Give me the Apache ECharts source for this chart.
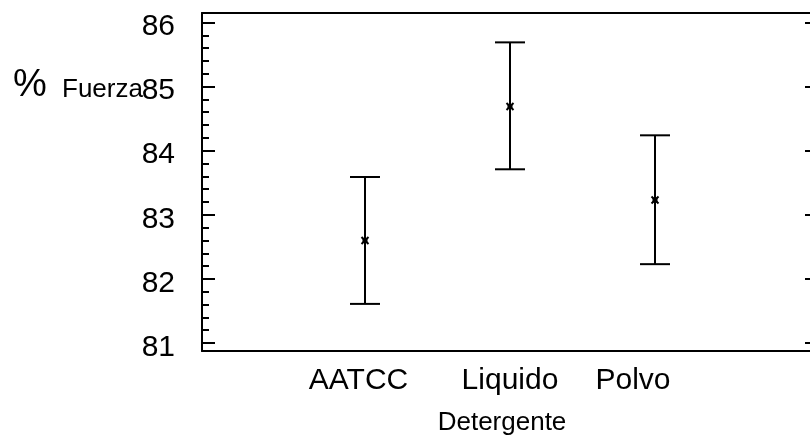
<!DOCTYPE html>
<html>
<head>
<meta charset="utf-8">
<script src="https://cdn.jsdelivr.net/npm/echarts@6/dist/echarts.min.js"></script>
<style>html,body{margin:0;padding:0;background:#fff}#c{width:810px;height:439px}</style>
</head>
<body>
<div id="c"></div>
<script>
const categories = ['AATCC', 'Liquido', 'Polvo'];
const means = [82.60, 84.69, 83.23];
const lowers = [81.61, 83.71, 82.23];
const uppers = [83.59, 85.69, 84.24];
const yTicks = [81, 82, 83, 84, 85, 86];
const xTitle = 'Detergente';
const yTitlePct = '%';
const yTitleWord = 'Fuerza';

const FONT = 'Liberation Sans, Arial, sans-serif';
const chart = echarts.init(document.getElementById('c'), null, {renderer: 'canvas'});

const seriesData = categories.map((c, i) => [i + 1, means[i], lowers[i], uppers[i]]);

const frameLine = {show: true, onZero: false, lineStyle: {color: '#000', width: 2}};
const yMin = yTicks[0], yMax = yTicks[yTicks.length - 1];
const catLabelStyle = {fontFamily: FONT, fontSize: 30, color: '#000'};

const option = {
  backgroundColor: '#fff',
  animation: false,
  grid: [
    {left: 202, top: 22.5, width: 616, height: 320.5, containLabel: false, outerBoundsMode: 'none'},
    {left: 202, top: 13, width: 616, height: 338, containLabel: false, outerBoundsMode: 'none'},
    {left: 202, top: 27, width: 616, height: 320.5, containLabel: false, outerBoundsMode: 'none'}
  ],
  xAxis: [
    {
      gridIndex: 0, type: 'value', min: -0.124, max: 4.124, position: 'bottom',
      axisLine: {show: false, onZero: false}, axisTick: {show: false}, splitLine: {show: false},
      axisLabel: {
        customValues: categories.map((c, i) => i + 1),
        formatter: v => {
          const i = Math.round(v) - 1;
          return categories[i] ? '{c' + i + '|' + categories[i] + '}' : '';
        },
        fontFamily: FONT, fontSize: 30, color: '#000', margin: 23,
        rich: {
          c0: Object.assign({padding: [0, 13, 0, 0]}, catLabelStyle),
          c1: Object.assign({}, catLabelStyle),
          c2: Object.assign({padding: [0, 44, 0, 0]}, catLabelStyle)
        }
      },
      name: xTitle, nameLocation: 'middle', nameGap: 67,
      nameTextStyle: {fontFamily: FONT, fontSize: 26, color: '#000', padding: [0, 16, 0, 0]}
    },
    {
      gridIndex: 1, type: 'value', min: 0, max: 1, position: 'bottom',
      axisLine: frameLine, axisTick: {show: false}, axisLabel: {show: false}, splitLine: {show: false}
    },
    {
      gridIndex: 1, type: 'value', min: 0, max: 1, position: 'top',
      axisLine: frameLine, axisTick: {show: false}, axisLabel: {show: false}, splitLine: {show: false}
    },
    {
      gridIndex: 2, type: 'value', min: 0, max: 1, show: false
    }
  ],
  yAxis: [
    {
      gridIndex: 0, type: 'value', min: yMin, max: yMax, interval: 1,
      position: 'left',
      axisLine: {show: false, onZero: false},
      axisTick: {show: true, inside: true, length: 13, lineStyle: {color: '#000', width: 2}},
      minorTick: {show: true, splitNumber: 5, length: 7, lineStyle: {color: '#000', width: 2}},
      splitLine: {show: false},
      axisLabel: {show: false}
    },
    {
      gridIndex: 0, type: 'value', min: yMin, max: yMax, interval: 1,
      position: 'right',
      axisLine: {show: false, onZero: false},
      axisTick: {show: true, inside: true, length: 13, lineStyle: {color: '#000', width: 2}},
      splitLine: {show: false}, axisLabel: {show: false}
    },
    {
      gridIndex: 1, type: 'value', min: 0, max: 1, position: 'left',
      axisLine: frameLine, axisTick: {show: false}, axisLabel: {show: false}, splitLine: {show: false}
    },
    {
      gridIndex: 1, type: 'value', min: 0, max: 1, position: 'right',
      axisLine: frameLine, axisTick: {show: false}, axisLabel: {show: false}, splitLine: {show: false}
    },
    {
      gridIndex: 2, type: 'value', min: yMin, max: yMax, interval: 1, position: 'left',
      axisLine: {show: false, onZero: false}, axisTick: {show: false}, splitLine: {show: false},
      axisLabel: {fontFamily: FONT, fontSize: 30, color: '#000', margin: 27}
    }
  ],
  graphic: [
    {type: 'text', left: 13, top: 67, style: {text: yTitlePct, font: '38px ' + FONT, fill: '#000'}},
    {type: 'text', left: 62, top: 77, style: {text: yTitleWord, font: '26px ' + FONT, fill: '#000'}}
  ],
  series: [
    {
      type: 'custom', xAxisIndex: 0, yAxisIndex: 0,
      data: seriesData,
      clip: false,
      renderItem: function (params, api) {
        const x = api.value(0);
        const pm = api.coord([x, api.value(1)]);
        const pl = api.coord([x, api.value(2)]);
        const ph = api.coord([x, api.value(3)]);
        const hw = 15;
        const st = {stroke: '#000', lineWidth: 2};
        const ms = {stroke: '#000', lineWidth: 2};
        const r = 3.5;
        return {
          type: 'group',
          children: [
            {type: 'line', shape: {x1: pl[0], y1: pl[1], x2: ph[0], y2: ph[1]}, style: st},
            {type: 'line', shape: {x1: pl[0] - hw, y1: pl[1], x2: pl[0] + hw, y2: pl[1]}, style: st},
            {type: 'line', shape: {x1: ph[0] - hw, y1: ph[1], x2: ph[0] + hw, y2: ph[1]}, style: st},
            {type: 'line', shape: {x1: pm[0] - r, y1: pm[1] - r, x2: pm[0] + r, y2: pm[1] + r}, style: ms},
            {type: 'line', shape: {x1: pm[0] - r, y1: pm[1] + r, x2: pm[0] + r, y2: pm[1] - r}, style: ms},
            {type: 'rect', shape: {x: pm[0] - 2.5, y: pm[1] - 2.5, width: 5, height: 5}, style: {fill: '#000'}}
          ]
        };
      }
    }
  ]
};
chart.setOption(option);
</script>
</body>
</html>
